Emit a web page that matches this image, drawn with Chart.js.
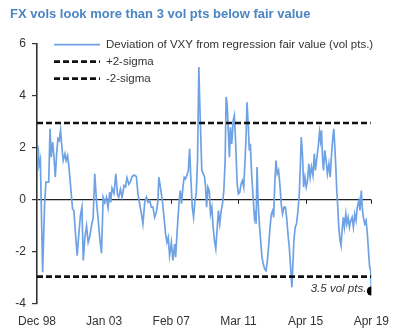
<!DOCTYPE html>
<html>
<head>
<meta charset="utf-8">
<script src="https://cdn.jsdelivr.net/npm/chart.js@4/dist/chart.umd.min.js"></script>
<style>
  html, body { margin: 0; padding: 0; background: #fff; }
  #wrap { width: 399px; height: 332px; }
</style>
</head>
<body>
<div id="wrap"><canvas id="c"></canvas></div>
<script>
// Deviation of VXY from its regression fair value, vol pts (dates as decimal years)
const dates = [
  1998.93, 1999.00, 1999.04, 1999.12, 1999.26, 1999.38, 1999.46, 1999.63, 1999.71, 1999.78,
  1999.87, 1999.95, 2000.03, 2000.11, 2000.19, 2000.27, 2000.35, 2000.43, 2000.51, 2000.62,
  2000.69, 2000.78, 2000.88, 2001.00, 2001.08, 2001.16, 2001.26, 2001.36, 2001.46, 2001.57,
  2001.65, 2001.73, 2001.83, 2001.93, 2002.03, 2002.13, 2002.23, 2002.33, 2002.43, 2002.54,
  2002.63, 2002.74, 2002.84, 2002.94, 2003.04, 2003.14, 2003.24, 2003.34, 2003.40, 2003.48,
  2003.60, 2003.71, 2003.81, 2003.89, 2003.99, 2004.09, 2004.21, 2004.30, 2004.39, 2004.50,
  2004.60, 2004.70, 2004.82, 2004.96, 2005.06, 2005.16, 2005.27, 2005.36, 2005.47, 2005.57,
  2005.67, 2005.77, 2005.87, 2005.97, 2006.07, 2006.18, 2006.27, 2006.33, 2006.42, 2006.54,
  2006.64, 2006.74, 2006.82, 2006.90, 2006.98, 2007.09, 2007.18, 2007.29, 2007.35, 2007.43,
  2007.55, 2007.63, 2007.71, 2007.79, 2007.87, 2007.95, 2008.03, 2008.12, 2008.20, 2008.27,
  2008.36, 2008.44, 2008.52, 2008.60, 2008.68, 2008.76, 2008.80, 2008.86, 2008.94, 2009.03,
  2009.11, 2009.17, 2009.23, 2009.31, 2009.39, 2009.47, 2009.55, 2009.63, 2009.71, 2009.79,
  2009.88, 2009.95, 2010.03, 2010.12, 2010.20, 2010.28, 2010.36, 2010.42, 2010.48, 2010.56,
  2010.62, 2010.68, 2010.76, 2010.85, 2010.92, 2011.00, 2011.09, 2011.17, 2011.25, 2011.33,
  2011.41, 2011.49, 2011.57, 2011.63, 2011.69, 2011.77, 2011.83, 2011.89, 2011.97, 2012.06,
  2012.14, 2012.20, 2012.24, 2012.30, 2012.36, 2012.44, 2012.52, 2012.60, 2012.68, 2012.76,
  2012.85, 2012.93, 2013.00, 2013.09, 2013.17, 2013.25, 2013.31, 2013.37, 2013.45, 2013.53,
  2013.61, 2013.70, 2013.77, 2013.85, 2013.94, 2014.02, 2014.10, 2014.18, 2014.26, 2014.34,
  2014.42, 2014.48, 2014.54, 2014.62, 2014.70, 2014.79, 2014.87, 2014.93, 2014.99, 2015.07,
  2015.13, 2015.21, 2015.29, 2015.37, 2015.45, 2015.53, 2015.61, 2015.70, 2015.78, 2015.85,
  2015.94, 2016.02, 2016.10, 2016.16, 2016.22, 2016.28, 2016.34, 2016.42, 2016.50, 2016.58,
  2016.67, 2016.75, 2016.82, 2016.91, 2016.97, 2017.03, 2017.09, 2017.15, 2017.21, 2017.27,
  2017.35, 2017.41, 2017.47, 2017.55, 2017.61, 2017.70, 2017.76, 2017.84, 2017.92, 2018.00,
  2018.08, 2018.16, 2018.24, 2018.32, 2018.40, 2018.49, 2018.56, 2018.64, 2018.70, 2018.76,
  2018.85, 2018.93, 2019.01, 2019.09, 2019.15, 2019.21, 2019.25
];
const deviation = [
   1.64,  1.87,  1.32,  1.55, -2.78, -0.15,  0.68,  0.68,  2.73,  1.64,
   2.22,  1.64,  0.87,  1.77,  2.35,  2.28,  2.67,  2.02,  1.51,  1.77,
   1.51,  1.70,  1.13,  0.23, -0.35, -0.41, -1.31, -2.14, -1.31, -0.54,
  -0.28, -2.33, -1.44, -1.00, -1.63, -1.40, -1.00, -0.70,  1.00, -0.10,
  -0.70, -1.50, -2.05,  0.10, -0.10,  0.10, -0.30,  0.30, -0.10,  0.45,
   0.25,  1.00,  0.20,  0.10,  0.40,  0.10,  0.55,  0.50,  0.85,  0.60,
   0.70,  0.90,  0.95,  0.90,  0.20, -0.15, -0.54, -0.92, -0.09,  0.10,
  -0.09, -0.03, -0.28, -0.28, -0.67, -0.47, -0.03,  0.87,  0.49, -0.03,
  -0.67, -1.31, -1.63, -1.44, -2.14, -1.63, -2.33, -1.70, -2.20, -1.31,
  -0.15,  0.36, -0.15,  0.49,  0.87,  0.81,  0.94,  1.13,  1.96,  0.87,
  -0.28, -0.67, -0.03,  0.23,  1.51,  5.10,  4.08,  2.79,  1.13,  1.00,
   0.87,  0.49, -0.28,  0.49,  0.36, -0.54, -0.28, -1.05, -1.57, -1.88,
  -1.05, -0.41, -0.92, -0.41, -0.15,  0.36,  1.51,  3.95,  3.69,  2.54,
   1.64,  2.79,  2.15,  3.05,  3.24,  2.15,  0.61,  0.23,  0.29,  0.61,
   0.74,  0.49,  1.51,  2.41,  3.75,  2.79,  1.90,  2.15,  1.00,  0.10,
  -0.67, -0.41, -0.92,  1.26, -0.03, -0.92, -1.57, -2.20, -2.46, -2.65,
  -2.72, -2.33, -1.82, -1.05, -0.54, -0.41, -0.67,  0.49,  1.51,  1.00,
   1.13,  0.49, -0.15, -0.54, -0.28, -0.28, -0.67, -1.31, -1.82, -2.59,
  -3.36, -2.46, -1.57, -1.05, -0.92, -0.41,  0.23,  1.26,  2.41,  1.64,
   0.49,  0.87,  0.49,  0.74,  1.38,  0.87,  1.26,  0.94,  1.77,  1.13,
   1.64,  2.02,  2.60,  2.28,  2.67,  1.64,  1.13,  1.90,  1.51,  1.00,
   1.38,  0.87,  1.64,  2.41,  2.73,  2.02,  1.26,  0.36, -0.28, -1.05,
  -1.57, -1.76, -1.18, -0.67, -1.05, -0.54, -0.92, -0.67, -1.05, -0.79,
  -0.67, -1.05, -0.54, -0.79, -0.28, -0.03, -0.41,  0.36, -0.28, -0.67,
  -0.92, -0.79, -1.31, -2.08, -2.59, -2.72, -3.50
];
// 2-sigma bands
const upperSigma = 2.95;
const lowerSigma = -2.95;

// x-axis ticks (decimal years) and their labels
const tickDates  = [1998.917, 2003.0, 2007.083, 2011.167, 2015.25, 2019.25];
const tickLabels = ['Dec 98', 'Jan 03', 'Feb 07', 'Mar 11', 'Apr 15', 'Apr 19'];
const yTicks = [-4, -2, 0, 2, 4, 6];

const seriesNames = [
  'Deviation of VXY from regression fair value (vol pts.)',
  '+2-sigma',
  '-2-sigma'
];
const titleText = 'FX vols look more than 3 vol pts below fair value';
const endLabel = '3.5 vol pts.';

const FONT = '"Liberation Sans", Arial, Helvetica, sans-serif';
Chart.defaults.font.family = FONT;
Chart.defaults.color = '#333';

const linePoints = dates.map((d, i) => ({ x: d, y: deviation[i] }));
const lastIdx = linePoints.length - 1;
const bandStart = tickDates[0];
const bandEnd = dates[lastIdx - 1];

// Legend rows drawn inside the plot area, top-left
const insideLegend = {
  id: 'insideLegend',
  afterDraw(chart) {
    const { ctx, chartArea } = chart;
    ctx.save();
    ctx.font = '11.5px ' + FONT;
    ctx.textBaseline = 'middle';
    ctx.fillStyle = '#333';
    chart.data.datasets.forEach((ds, i) => {
      const y = chartArea.top + 1 + i * 17;
      const x0 = chartArea.left + 17, x1 = chartArea.left + 63;
      ctx.beginPath();
      ctx.strokeStyle = ds.borderColor;
      ctx.lineWidth = ds.borderWidth;
      ctx.setLineDash(ds.borderDash || []);
      ctx.moveTo(x0, y);
      ctx.lineTo(x1, y);
      ctx.stroke();
      ctx.setLineDash([]);
      ctx.fillText(ds.label, x1 + 6, y);
    });
    ctx.restore();
  }
};

// Small downward ticks on the zero line at each date tick
const zeroLineTicks = {
  id: 'zeroLineTicks',
  beforeDatasetsDraw(chart) {
    const { ctx, scales } = chart;
    const y0 = scales.y.getPixelForValue(0);
    ctx.save();
    ctx.strokeStyle = '#222';
    ctx.lineWidth = 1;
    tickDates.slice(1).forEach(t => {
      const x = Math.round(scales.x.getPixelForValue(t)) + 0.5;
      ctx.beginPath();
      ctx.moveTo(x, y0);
      ctx.lineTo(x, y0 + 4);
      ctx.stroke();
    });
    ctx.restore();
  }
};

// Annotation next to the latest reading
const endNote = {
  id: 'endNote',
  afterDatasetsDraw(chart) {
    const meta = chart.getDatasetMeta(0);
    const pt = meta.data[lastIdx];
    if (!pt) return;
    const { ctx } = chart;
    ctx.save();
    ctx.font = 'italic 11.5px ' + FONT;
    ctx.fillStyle = '#333';
    ctx.textAlign = 'right';
    ctx.textBaseline = 'middle';
    ctx.fillText(endLabel, pt.x - 5, pt.y - 2);
    ctx.restore();
  }
};

new Chart(document.getElementById('c'), {
  type: 'line',
  data: {
    datasets: [
      {
        label: seriesNames[0],
        data: linePoints,
        borderColor: '#6ea2e4',
        borderWidth: 1.7,
        tension: 0,
        pointRadius: ctx => ctx.dataIndex === lastIdx ? 4.5 : 0,
        pointBackgroundColor: '#000',
        pointBorderColor: '#000',
        pointBorderWidth: 0,
        order: 2
      },
      {
        label: seriesNames[1],
        data: [{ x: bandStart, y: upperSigma }, { x: bandEnd, y: upperSigma }],
        borderColor: '#111',
        borderWidth: 2.6,
        borderDash: [6, 3],
        pointRadius: 0,
        order: 1
      },
      {
        label: seriesNames[2],
        data: [{ x: bandStart, y: lowerSigma }, { x: dates[lastIdx], y: lowerSigma }],
        borderColor: '#111',
        borderWidth: 2.6,
        borderDash: [6, 3],
        pointRadius: 0,
        order: 1
      }
    ]
  },
  options: {
    responsive: true,
    maintainAspectRatio: false,
    animation: false,
    devicePixelRatio: 1,
    layout: { padding: { left: 10, right: 27, top: 4, bottom: 3 } },
    plugins: {
      legend: { display: false },
      tooltip: { enabled: false },
      title: {
        display: true,
        text: titleText,
        align: 'start',
        color: '#4a85c4',
        font: { size: 13, weight: 'bold', family: FONT },
        padding: { top: 3, bottom: 21 }
      }
    },
    scales: {
      x: {
        type: 'linear',
        min: tickDates[0],
        max: tickDates[tickDates.length - 1],
        afterBuildTicks: s => { s.ticks = tickDates.map(v => ({ value: v })); },
        afterFit: s => { s.height = 25; },
        ticks: {
          autoSkip: false,
          maxRotation: 0,
          padding: 10,
          font: { size: 12 },
          color: '#333',
          callback: (v, i) => tickLabels[i]
        },
        grid: { display: false, drawTicks: false },
        border: { display: false }
      },
      y: {
        min: yTicks[0],
        max: yTicks[yTicks.length - 1],
        afterBuildTicks: s => { s.ticks = yTicks.map(v => ({ value: v })); },
        afterFit: s => { s.width = 27; },
        ticks: { padding: 6, font: { size: 12 }, color: '#333' },
        grid: {
          color: c => (c.tick && c.tick.value === 0) ? '#222' : 'rgba(0,0,0,0)',
          lineWidth: 1.2,
          tickColor: '#333',
          tickLength: 5,
          drawTicks: true
        },
        border: { display: true, color: '#333', width: 1.6 }
      }
    }
  },
  plugins: [zeroLineTicks, endNote, insideLegend]
});
</script>
</body>
</html>
